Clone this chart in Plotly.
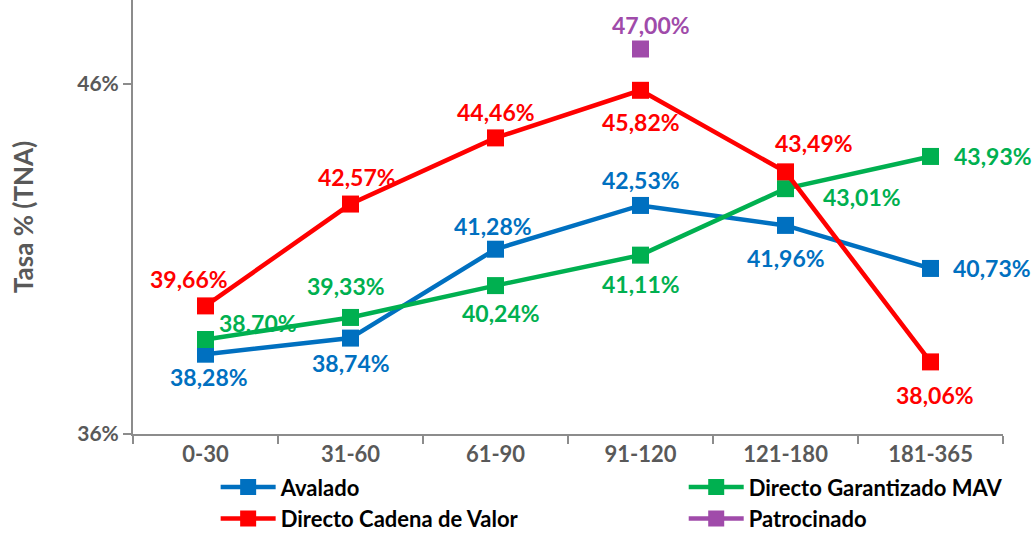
import plotly.graph_objects as go

categories = ["0-30", "31-60", "61-90", "91-120", "121-180", "181-365"]
avalado = [38.28, 38.74, 41.28, 42.53, 41.96, 40.73]
directo_mav = [38.70, 39.33, 40.24, 41.11, 43.01, 43.93]
directo_cadena = [39.66, 42.57, 44.46, 45.82, 43.49, 38.06]
patrocinado = [None, None, None, 47.00, None, None]
ytick_vals = [36, 46]
ytick_text = ["36%", "46%"]

FONT = "Lato, 'Liberation Sans', sans-serif"
series = [
    ("Avalado", avalado, "#0070C0", "legend",
     [(3, -23), (0, -25), (-3, 23), (0, 25), (0, -33), (61, 0)]),
    ("Directo Garantizado MAV", directo_mav, "#00B050", "legend2",
     [(52, 17), (-5, 31), (5, -27), (0, -29), (76, -8), (62, 0)]),
    ("Directo Cadena de Valor", directo_cadena, "#FF0000", "legend",
     [(-17, 27), (6, 27), (0, 26), (0, -32), (28, 29), (4, -33)]),
    ("Patrocinado", patrocinado, "#A04BAA", "legend2",
     [None, None, None, (10, 24), None, None]),
]

fig = go.Figure()
annotations = []
for name, vals, color, leg, offs in series:
    fig.add_trace(go.Scatter(
        x=categories, y=vals, name=name, mode="lines+markers",
        line=dict(color=color, width=4.5),
        marker=dict(symbol="square", size=17, color=color),
        connectgaps=False, legend=leg, cliponaxis=False,
    ))
    for c, v, o in zip(categories, vals, offs):
        if v is None or o is None:
            continue
        annotations.append(dict(
            x=c, y=v, xref="x", yref="y", text=f"<b>{v:.2f}%</b>".replace(".", ","),
            showarrow=False, xshift=o[0], yshift=o[1],
            font=dict(family=FONT, size=23, color=color),
        ))

legend_common = dict(
    orientation="v", y=-0.074, xanchor="left", yanchor="top",
    itemwidth=55, tracegroupgap=0, bgcolor="rgba(0,0,0,0)",
    font=dict(family=FONT, size=22, color="black", weight="bold"),
)

fig.update_layout(
    width=1036, height=533,
    margin=dict(l=133, r=33, t=0, b=99, autoexpand=False),
    paper_bgcolor="white", plot_bgcolor="white",
    showlegend=True,
    annotations=annotations,
    legend=dict(x=0.095, **legend_common),
    legend2=dict(x=0.633, **legend_common),
    xaxis=dict(
        type="category", range=[-0.5, 5.5], showgrid=False,
        showline=True, linecolor="#8C8C8C", linewidth=2,
        ticks="outside", tickson="boundaries", ticklen=8, tickcolor="#8C8C8C", tickwidth=2,
        tickfont=dict(family=FONT, size=22, color="#595959", weight="bold"),
    ),
    yaxis=dict(
        range=[36, 48.4], showgrid=False, zeroline=False,
        showline=True, linecolor="#8C8C8C", linewidth=2,
        tickvals=ytick_vals, ticktext=ytick_text,
        ticks="outside", ticklen=8, tickcolor="#8C8C8C", tickwidth=2,
        tickfont=dict(family=FONT, size=21, color="#595959", weight="bold"),
        title=dict(text="Tasa % (TNA)", standoff=36,
                   font=dict(family=FONT, size=26, color="#595959", weight="bold")),
    ),
)
fig.write_html("out.html", config={"displayModeBar": False},
               post_script="document.body.style.margin='0';")
